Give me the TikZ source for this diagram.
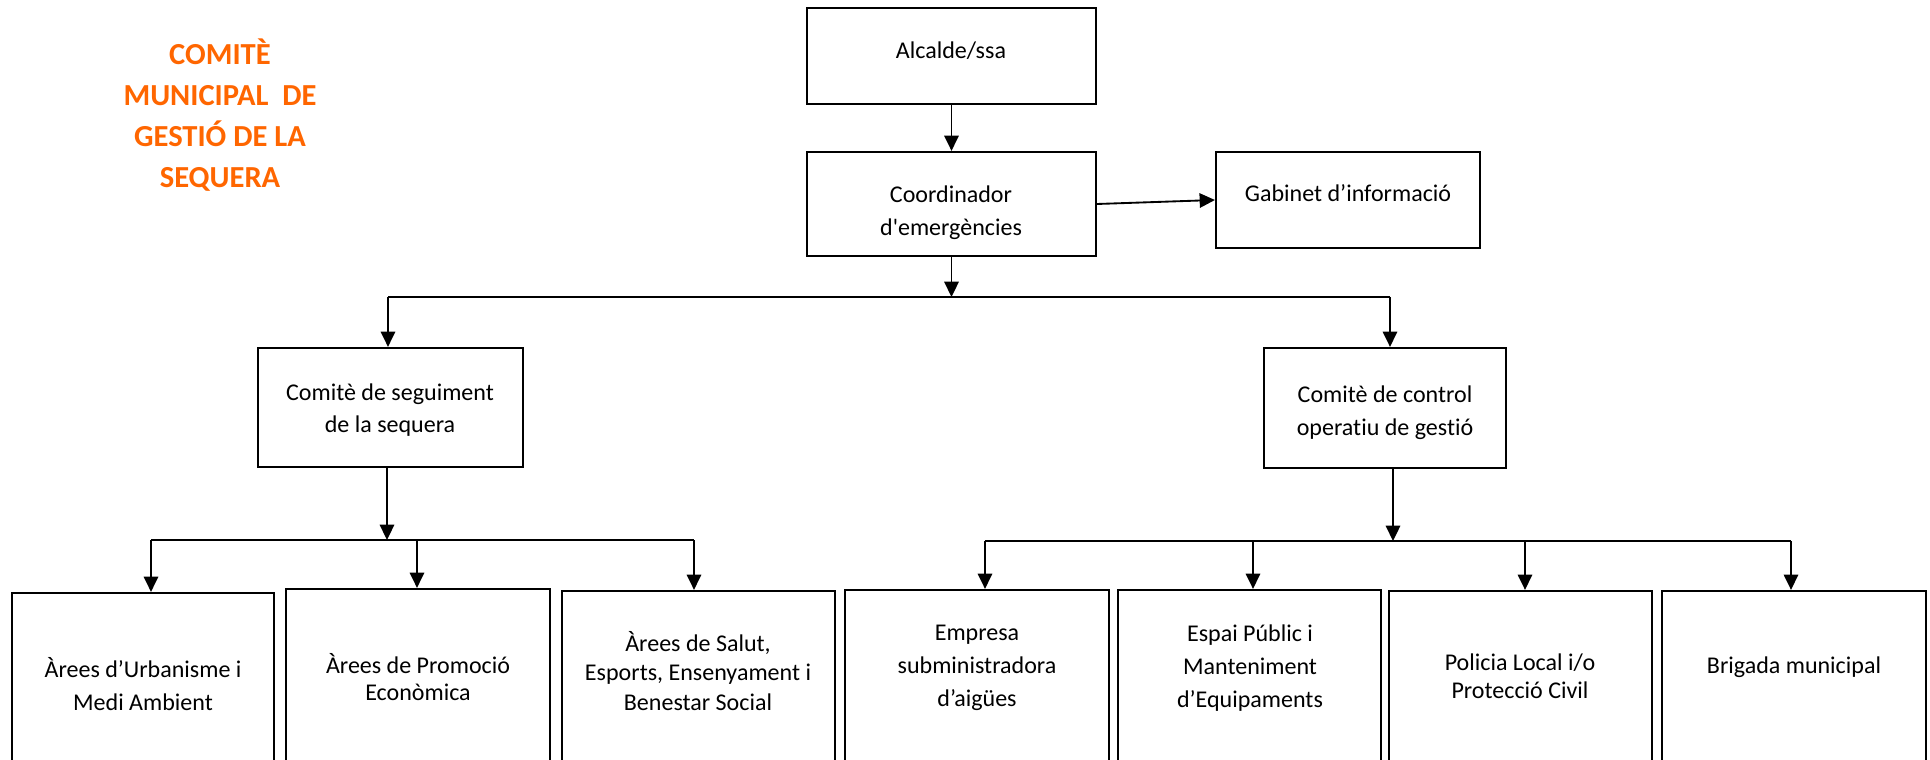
\documentclass[tikz,border=0pt]{standalone}
\usepackage{fontspec}
\setmainfont{Carlito}[Ligatures={TeX,NoCommon}]
\usetikzlibrary{arrows.meta,fit}
\definecolor{titleorange}{RGB}{255,102,0}
\tikzset{
  box/.style={draw, line width=1pt, inner sep=0pt},
  txt/.style={align=center, inner sep=0pt, font=\fontsize{11}{#1}\selectfont},
  txt/.default=15,
  arr/.style={line width=0.85pt, -{Triangle[width=6.6pt,length=7pt]}},
  bus/.style={line width=0.85pt},
}
\begin{document}
\begin{tikzpicture}[x=0.458pt, y=-0.458pt]
  \clip (0,0) rectangle (1930,760);
  \fill[white] (0,0) rectangle (1930,760);

  % title
  \node[font=\fontsize{14}{18.8}\selectfont\bfseries, text=titleorange, align=center] (title) at (220,115)
    {COMITÈ\\MUNICIPAL\ \ DE\\GESTIÓ DE LA\\SEQUERA};

  % top of the chart
  \node[box, fit={(807,8) (1096,104)}] (alc) {};
  \node[txt] (alcT) at (951,51) {Alcalde/ssa};
  \node[box, fit={(807,152) (1096,256)}] (coord) {};
  \node[txt] (coordT) at (951,213) {Coordinador\\d\textquotesingle emergències};
  \node[box, fit={(1216,152) (1480,248)}] (gab) {};
  \node[txt] (gabT) at (1348,193) {Gabinet d’informació};

  % the two committees
  \node[box, fit={(258,348) (523,467)}] (seg) {};
  \node[txt] (segT) at (390,410) {Comitè de seguiment\\de la sequera};
  \node[box, fit={(1264,348) (1506,468)}] (ctl) {};
  \node[txt] (ctlT) at (1385,413) {Comitè de control\\operatiu de gestió};

  % areas
  \node[box, fit={(12,593) (274,790)}] (urb) {};
  \node[txt] (urbT) at (143,684) {Àrees d’Urbanisme i\\Medi Ambient};
  \node[box, fit={(286,589) (550,790)}] (prom) {};
  \node[txt=12.5] (promT) at (418,677) {Àrees de Promoció\\Econòmica};
  \node[box, fit={(562,591) (835,790)}] (salut) {};
  \node[txt=13.5] (salutT) at (698,671) {Àrees de Salut,\\Esports, Ensenyament i\\Benestar Social};
  \node[box, fit={(845,590) (1109,790)}] (emp) {};
  \node[txt] (empT) at (977,668) {Empresa\\subministradora\\d’aigües};
  \node[box, fit={(1118,590) (1381,790)}] (espai) {};
  \node[txt] (espaiT) at (1250,668) {Espai Públic i\\Manteniment\\d’Equipaments};
  \node[box, fit={(1389,591) (1652,790)}] (pol) {};
  \node[txt=13] (polT) at (1520,676) {Policia Local i/o\\Protecció Civil};
  \node[box, fit={(1662,591) (1926,790)}] (brig) {};
  \node[txt] (brigT) at (1794,667) {Brigada municipal};

  % connectors
  \coordinate (b1L) at (388,297);
  \coordinate (b1R) at (1390,297);
  \coordinate (b2) at (387,540);
  \coordinate (b3) at (1393,541);

  \draw[arr] (alc) -- (coord);
  \draw[arr] (coord.east) -- (gab.west);
  \draw[arr] (coord.south) -- (coord.south |- b1L);
  \draw[bus] (b1L) -- (b1R);
  \draw[arr] (b1L) -- (b1L |- seg.north);
  \draw[arr] (b1R) -- (b1R |- ctl.north);

  \draw[arr] (b2 |- seg.south) -- (b2);
  \foreach \n/\x in {urb/151, prom/417, salut/694} {
    \coordinate (t\n) at (\x,540);
    \draw[arr] (t\n) -- (t\n |- \n.north);
  }
  \draw[bus] (turb) -- (tsalut);

  \draw[arr] (b3 |- ctl.south) -- (b3);
  \foreach \n/\x in {emp/985, espai/1253, pol/1525, brig/1791} {
    \coordinate (t\n) at (\x,541);
    \draw[arr] (t\n) -- (t\n |- \n.north);
  }
  \draw[bus] (temp) -- (tbrig);
\end{tikzpicture}
\end{document}
